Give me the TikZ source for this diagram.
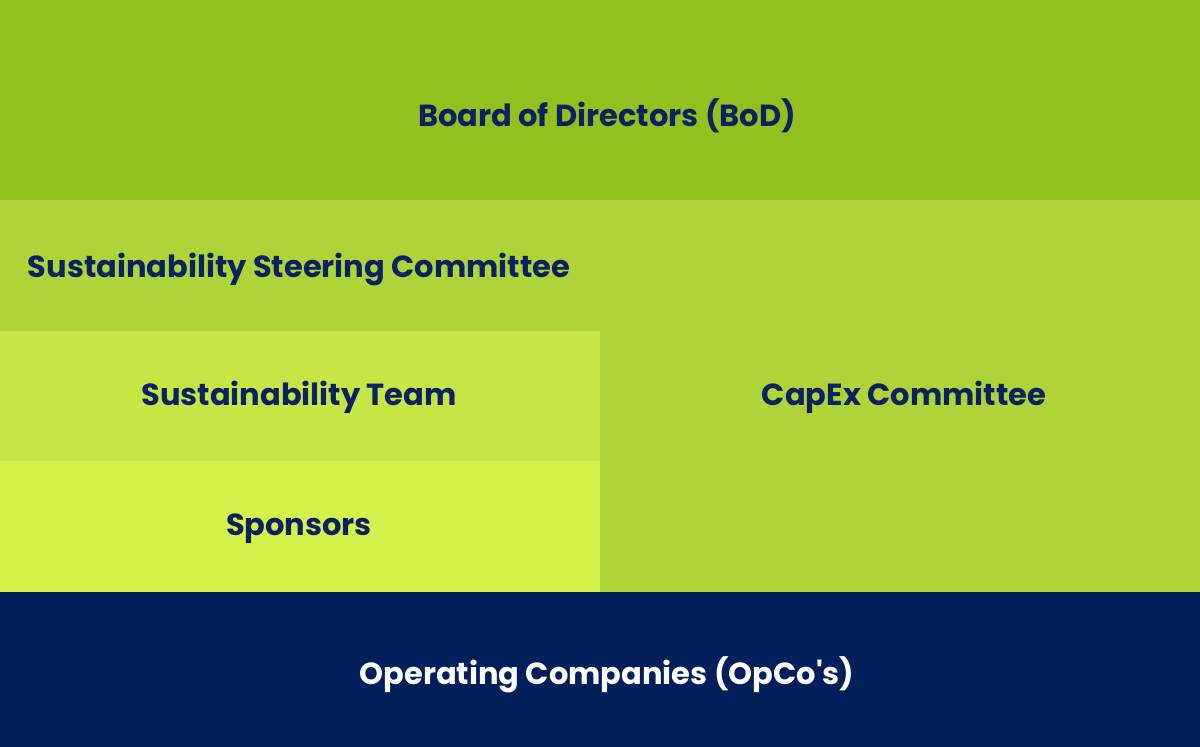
\documentclass[tikz,border=0pt]{standalone}
\usepackage{fontspec}
\setmainfont{Poppins}
\definecolor{cBoard}{HTML}{93C01F}
\definecolor{cSteer}{HTML}{AED43A}
\definecolor{cTeam}{HTML}{C6E645}
\definecolor{cSpon}{HTML}{D4F24C}
\definecolor{cNavy}{HTML}{001F5B}
\definecolor{cText}{HTML}{0B2160}
\begin{document}
\begin{tikzpicture}[x=1pt,y=-1pt,
  lbl/.style={font=\fontsize{30.5}{34}\selectfont\bfseries, text=cText, inner sep=0pt, anchor=center}]
\useasboundingbox (0,0) rectangle (1200,747);
\fill[cBoard] (0,0) rectangle (1200,200);
\fill[cSteer] (0,200) rectangle (1200,592);
\fill[cTeam] (0,331) rectangle (600,461);
\fill[cSpon] (0,461) rectangle (600,592);
\fill[cNavy] (0,592) rectangle (1200,747);
\node[lbl] (bod) at (607,116) {Board of Directors (BoD)};
\node[lbl] (ssc) at (299,269) {Sustainability Steering Committee};
\node[lbl] (team) at (299,397) {Sustainability Team};
\node[lbl] (capex) at (904,397) {CapEx Committee};
\node[lbl] (spon) at (299,529) {Sponsors};
\node[lbl, text=white] (opco) at (607,675) {Operating Companies (OpCo\textquotesingle s)};
\end{tikzpicture}
\end{document}
